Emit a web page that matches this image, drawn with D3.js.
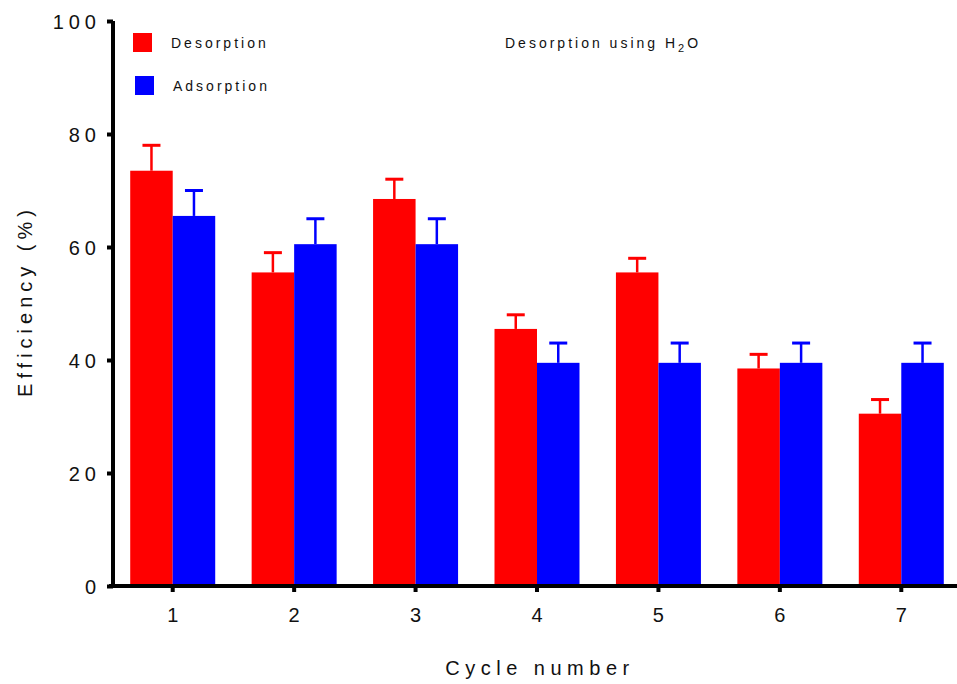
<!DOCTYPE html>
<html><head><meta charset="utf-8">
<script src="https://cdn.jsdelivr.net/npm/d3@7"></script>
<style>body{margin:0;background:#fff}svg{display:block}text{font-family:Arial,"Liberation Sans",sans-serif;fill:#111}</style>
</head><body>
<svg id="c" width="957" height="684"></svg>
<script>
const cycles = ["1","2","3","4","5","6","7"];
const desorption = [73.5, 55.5, 68.5, 45.5, 55.5, 38.5, 30.5];
const desorptionErr = [4.5, 3.5, 3.5, 2.5, 2.5, 2.5, 2.5];
const adsorption = [65.5, 60.5, 60.5, 39.5, 39.5, 39.5, 39.5];
const adsorptionErr = [4.5, 4.5, 4.5, 3.5, 3.5, 3.5, 3.5];
const yTicks = [0, 20, 40, 60, 80, 100];
const seriesNames = ["Desorption", "Adsorption"];
const colors = ["#ff0000", "#0000ff"];

const svg = d3.select("#c");
const y = d3.scaleLinear().domain([0, 100]).range([586, 21]);
const x = d3.scaleBand().domain(cycles).range([112, 962]).paddingInner(0.3).paddingOuter(0.15);
const xs = d3.scaleBand().domain(seriesNames).range([0, x.bandwidth()]);

const series = [
  {name: seriesNames[0], vals: desorption, err: desorptionErr, color: colors[0]},
  {name: seriesNames[1], vals: adsorption, err: adsorptionErr, color: colors[1]}
];

series.forEach(s => {
  const g = svg.append("g");
  cycles.forEach((c, i) => {
    const bx = x(c) + xs(s.name);
    const cx = bx + xs.bandwidth() / 2;
    g.append("line").attr("x1", cx).attr("x2", cx)
      .attr("y1", y(s.vals[i])).attr("y2", y(s.vals[i] + s.err[i]))
      .attr("stroke", s.color).attr("stroke-width", 2.5);
    g.append("line").attr("x1", cx - 9).attr("x2", cx + 9)
      .attr("y1", y(s.vals[i] + s.err[i])).attr("y2", y(s.vals[i] + s.err[i]))
      .attr("stroke", s.color).attr("stroke-width", 3);
    g.append("rect").attr("x", bx).attr("width", xs.bandwidth())
      .attr("y", y(s.vals[i])).attr("height", y(0) - y(s.vals[i]))
      .attr("fill", s.color);
  });
});

// Y axis
const yAxis = d3.axisLeft(y).tickValues(yTicks).tickSize(6).tickPadding(8);
const yg = svg.append("g").attr("transform", "translate(113,0)").call(yAxis);
yg.select(".domain").attr("d", "M0,21V588").attr("stroke", "#000").attr("stroke-width", 4);
yg.selectAll(".tick line").attr("stroke", "#000").attr("stroke-width", 4);
yg.selectAll(".tick text").style("font-size", "20px").style("letter-spacing", "5px").attr("dy", "0.36em").attr("x", -12);

// X axis
const xAxis = d3.axisBottom(x).tickSize(6).tickPadding(12).tickSizeOuter(0);
const xg = svg.append("g").attr("transform", "translate(0,586)").call(xAxis);
xg.select(".domain").attr("d", "M109,0H957").attr("stroke", "#000").attr("stroke-width", 4);
xg.selectAll(".tick line").attr("stroke", "#000").attr("stroke-width", 4);
xg.selectAll(".tick text").style("font-size", "20px").attr("dy", "0.9em");

// Axis titles
svg.append("text").attr("x", 540).attr("y", 675).attr("text-anchor", "middle")
  .style("font-size", "20px").style("letter-spacing", "5.5px").text("Cycle number");
svg.append("text").attr("transform", "translate(32,301) rotate(-90)").attr("text-anchor", "middle")
  .style("font-size", "20px").style("letter-spacing", "5px").text("Efficiency (%)");

// Legend
const leg = [{y: 33, sx: 133, tx: 171}, {y: 76, sx: 135, tx: 173}];
series.forEach((s, i) => {
  svg.append("rect").attr("x", leg[i].sx).attr("y", leg[i].y).attr("width", 19).attr("height", 19).attr("fill", s.color);
  svg.append("text").attr("x", leg[i].tx).attr("y", leg[i].y + 15)
    .style("font-size", "14px").style("letter-spacing", "3px").text(s.name);
});

// Title
const t = svg.append("text").attr("x", 505).attr("y", 48).style("font-size", "14px").style("letter-spacing", "3px");
t.append("tspan").text("Desorption using H");
t.append("tspan").attr("dy", 4).style("font-size", "11px").text("2");
t.append("tspan").attr("dy", -4).text("O");
</script>
</body></html>
